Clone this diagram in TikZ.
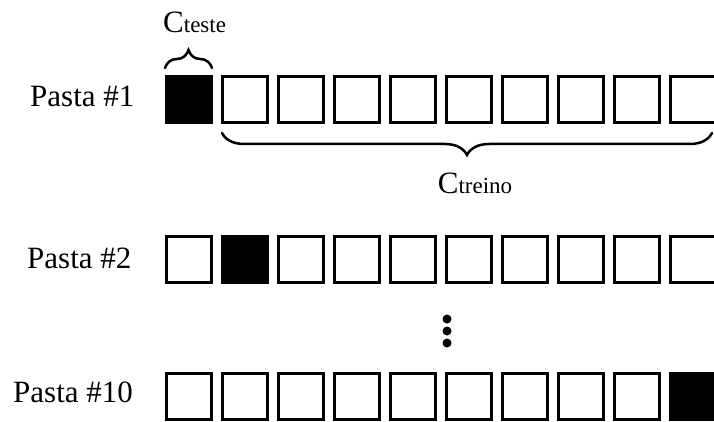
\documentclass[tikz,border=0pt]{standalone}
\usepackage{fontspec}
\setmainfont{Liberation Serif}
\usetikzlibrary{decorations.pathreplacing}
\begin{document}
\begin{tikzpicture}[x=1pt,y=1pt,
  cell/.style={draw=black,line width=3pt,fill=white,inner sep=0pt,
    minimum width=45pt,minimum height=46pt},
  testcell/.style={cell,fill=black},
  rowlabel/.style={anchor=base west,inner sep=0pt,font=\fontsize{31}{31}\selectfont},
  bigc/.style={anchor=base,inner sep=0pt},
  bracepath/.style={decorate,line width=2.5pt,line cap=round,
    decoration={brace,amplitude=#1}},
  dot/.style={circle,fill=black,inner sep=0pt,minimum size=9pt}
]
\useasboundingbox (0,0) rectangle (714,421);
\clip (0,0) rectangle (714,421);

% row labels
\node[rowlabel] (l1)  at (30,314) {Pasta \#1};
\node[rowlabel] (l2)  at (27,153) {Pasta \#2};
\node[rowlabel] (l10) at (13,19)  {Pasta \#10};

% three folds of ten cells each; the test cell is filled black
\foreach \r/\y/\t in {1/321.5/0, 2/161.5/1, 10/24.5/9}{
  \foreach \i in {0,...,9}{
    \ifnum\i=\t
      \node[testcell] (r\r c\i) at (189+56*\i,\y) {};
    \else
      \node[cell] (r\r c\i) at (189+56*\i,\y) {};
    \fi
  }
}

% braces over the test cell and under the training cells
\coordinate (tb1) at (165,353);
\coordinate (tb2) at (212,353);
\draw[bracepath=18pt] (tb1) -- (tb2);
\coordinate (ub1) at (712,288);
\coordinate (ub2) at (222,288);
\draw[bracepath=22pt] (ub1) -- (ub2);

\node[anchor=base west,inner sep=0pt] (cteste) at (163,388)
  {\fontsize{31}{31}\selectfont C\fontsize{23}{23}\selectfont teste};
\node[bigc] (ctreino) at (475,228)
  {\fontsize{31}{31}\selectfont C\fontsize{23}{23}\selectfont treino};

% vertical ellipsis between fold 2 and fold 10
\node[dot] (d1) at (447,102) {};
\node[dot] (d2) at (447,90) {};
\node[dot] (d3) at (447,78) {};
\end{tikzpicture}
\end{document}
